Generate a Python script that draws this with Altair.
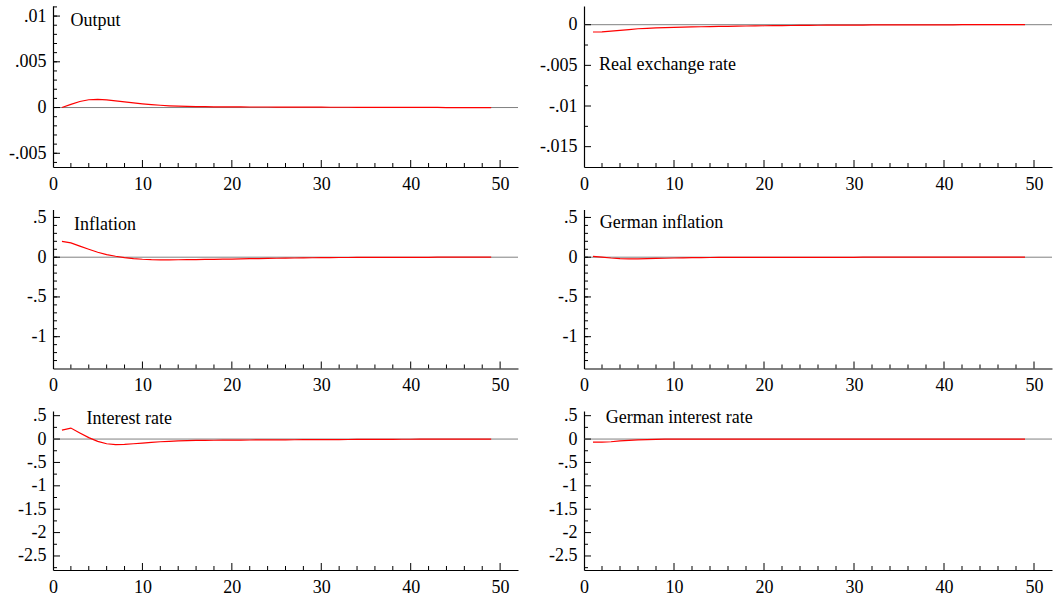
import altair as alt
import pandas as pd
import numpy as np

FONT = "Liberation Serif"

horizon = list(range(1, 50))

output = [0.0, 0.00035, 0.00066, 0.00085, 0.00089, 0.00083, 0.00073, 0.00062, 0.00051, 0.00041,
          0.00032, 0.00025, 0.00019, 0.00015, 0.00012, 0.0001, 0.00009, 0.00008, 0.00008, 0.00007,
          0.00007, 0.00006, 0.00006, 0.00006, 0.00005, 0.00005, 0.00005, 0.00004, 0.00004, 0.00004,
          0.00003, 0.00003, 0.00003, 0.00002, 0.00002, 0.00002, 0.00002, 0.00001, 0.00001, 0.00001,
          0.00001, 0.00001, 0.00001, 0.0, 0.0, 0.0, 0.0, 0.0, 0.0]

real_exchange = [-0.0009, -0.00088, -0.0008, -0.0007, -0.0006, -0.0005, -0.00044, -0.0004, -0.00036, -0.00032,
                 -0.0003, -0.00027, -0.00025, -0.00023, -0.00021, -0.0002, -0.00018, -0.00016, -0.00015, -0.00013,
                 -0.00012, -0.00011, -0.0001, -0.00009, -0.00008, -0.00007, -0.00006, -0.00005, -0.00005, -0.00004,
                 -0.00004, -0.00003, -0.00003, -0.00003, -0.00002, -0.00002, -0.00002, -0.00001, -0.00001, -0.00001,
                 -0.00001, 0.0, 0.0, 0.0, 0.0, 0.0, 0.0, 0.0, 0.0]

inflation = [0.2, 0.18, 0.14, 0.1, 0.062, 0.033, 0.012, -0.005, -0.018, -0.026,
             -0.031, -0.033, -0.033, -0.032, -0.031, -0.03, -0.028, -0.027, -0.025, -0.023,
             -0.021, -0.019, -0.017, -0.015, -0.013, -0.011, -0.01, -0.008, -0.007, -0.006,
             -0.005, -0.004, -0.004, -0.003, -0.003, -0.002, -0.002, -0.002, -0.001, -0.001,
             -0.001, -0.001, 0.0, 0.0, 0.0, 0.0, 0.0, 0.0, 0.0]

german_inflation = [0.01, 0.0, -0.01, -0.017, -0.02, -0.02, -0.019, -0.016, -0.013, -0.01,
                    -0.008, -0.006, -0.005, -0.004, -0.003, -0.003, -0.003, -0.002, -0.002, -0.002,
                    -0.002, -0.002, -0.001, -0.001, -0.001, -0.001, -0.001, -0.001, -0.001, -0.001,
                    0.0, 0.0, 0.0, 0.0, 0.0, 0.0, 0.0, 0.0, 0.0, 0.0,
                    0.0, 0.0, 0.0, 0.0, 0.0, 0.0, 0.0, 0.0, 0.0]

interest = [0.19, 0.235, 0.13, 0.03, -0.05, -0.1, -0.12, -0.115, -0.1, -0.085,
            -0.07, -0.058, -0.048, -0.04, -0.034, -0.03, -0.027, -0.025, -0.023, -0.022,
            -0.021, -0.02, -0.019, -0.018, -0.017, -0.016, -0.015, -0.014, -0.013, -0.012,
            -0.011, -0.01, -0.009, -0.008, -0.007, -0.006, -0.005, -0.005, -0.004, -0.004,
            -0.003, -0.003, -0.002, -0.002, -0.001, -0.001, -0.001, 0.0, 0.0]

german_interest = [-0.065, -0.065, -0.058, -0.04, -0.028, -0.018, -0.011, -0.006, -0.003, -0.001,
                   0.0, 0.0, 0.0, 0.0, 0.0, 0.0, 0.0, 0.0, 0.0, 0.0,
                   0.0, 0.0, 0.0, 0.0, 0.0, 0.0, 0.0, 0.0, 0.0, 0.0,
                   0.0, 0.0, 0.0, 0.0, 0.0, 0.0, 0.0, 0.0, 0.0, 0.0,
                   0.0, 0.0, 0.0, 0.0, 0.0, 0.0, 0.0, 0.0, 0.0]

titles = ["Output", "Real exchange rate", "Inflation", "German inflation",
          "Interest rate", "German interest rate"]

x_labels = [0, 10, 20, 30, 40, 50]
x_minor = [v for v in range(2, 51, 2) if v % 10 != 0]

major_output = [-0.005, 0, 0.005, 0.01]
major_rer = [-0.015, -0.01, -0.005, 0]
major_infl = [-1, -0.5, 0, 0.5]
major_rate = [-2.5, -2, -1.5, -1, -0.5, 0, 0.5]

minor_output = [round(v, 4) for v in np.arange(-0.006, 0.0111, 0.001)]
minor_rer = [-0.0125, -0.0075, -0.0025]
minor_infl = [round(v, 2) for v in np.arange(-1.3, 0.55, 0.1)]
minor_rate = [-2.75, -2.25, -1.75, -1.25, -0.75, -0.25, 0.25]

LABEL_EXPR = "replace(toString(datum.value), '0.', '.')"


def panel(values, title, ydom, major, minor, W, H, tx, ty):
    xs = alt.Scale(domain=[0, 52], nice=False, zero=False)
    ys = alt.Scale(domain=ydom, nice=False, zero=False)
    ax_x = alt.Axis(values=x_labels, ticks=False, title=None, grid=False,
                    domainColor="black", domainWidth=1.2,
                    labelFont=FONT, labelFontSize=18, labelColor="black",
                    labelPadding=8, labelFlush=False, labelOverlap=False, labelBound=False)
    ax_y = alt.Axis(values=major, ticks=False, title=None, grid=False,
                    domainColor="black", domainWidth=1.2,
                    labelFont=FONT, labelFontSize=18, labelColor="black",
                    labelPadding=7, labelFlush=False, labelOverlap=False, labelBound=False,
                    labelExpr=LABEL_EXPR)

    df = pd.DataFrame({"h": horizon, "v": values})

    zero = alt.Chart(pd.DataFrame({"v": [0]})).mark_rule(color="#808080", strokeWidth=1).encode(
        y=alt.Y("v:Q", scale=ys, axis=ax_y), x=alt.value(0), x2=alt.value(W))

    line = alt.Chart(df).mark_line(color="#ff0000", strokeWidth=1.2).encode(
        x=alt.X("h:Q", scale=xs, axis=ax_x),
        y=alt.Y("v:Q", scale=ys, axis=ax_y))

    ymaj = alt.Chart(pd.DataFrame({"v": major})).mark_rule(color="black", strokeWidth=1).encode(
        y=alt.Y("v:Q", scale=ys, axis=ax_y), x=alt.value(0), x2=alt.value(7))
    ymin = alt.Chart(pd.DataFrame({"v": minor})).mark_rule(color="black", strokeWidth=1).encode(
        y=alt.Y("v:Q", scale=ys, axis=ax_y), x=alt.value(0), x2=alt.value(4))
    xmaj = alt.Chart(pd.DataFrame({"h": x_labels[1:]})).mark_rule(color="black", strokeWidth=1).encode(
        x=alt.X("h:Q", scale=xs, axis=ax_x), y=alt.value(H), y2=alt.value(H - 7))
    xmin = alt.Chart(pd.DataFrame({"h": x_minor})).mark_rule(color="black", strokeWidth=1).encode(
        x=alt.X("h:Q", scale=xs, axis=ax_x), y=alt.value(H), y2=alt.value(H - 4))

    label = alt.Chart(pd.DataFrame({"name": [title]})).mark_text(
        align="left", baseline="alphabetic", font=FONT, fontSize=18, color="black").encode(
        x=alt.value(tx), y=alt.value(ty), text="name:N")

    return alt.layer(zero, line, ymaj, ymin, xmaj, xmin, label).properties(width=W, height=H)


WL, WR = 465, 468
p1 = panel(output, titles[0], [-0.0065, 0.0111], major_output, minor_output, WL, 161, 17.5, 20)
p2 = panel(real_exchange, titles[1], [-0.0175, 0.0023], major_rer, minor_rer, WR, 161, 15, 64.3)
p3 = panel(inflation, titles[2], [-1.4, 0.6], major_infl, minor_infl, WL, 159, 21, 20)
p4 = panel(german_inflation, titles[3], [-1.4, 0.6], major_infl, minor_infl, WR, 159, 15.7, 18.4)
p5 = panel(interest, titles[4], [-2.8, 0.6], major_rate, minor_rate, WL, 159, 33.5, 13.3)
p6 = panel(german_interest, titles[5], [-2.8, 0.6], major_rate, minor_rate, WR, 159, 21.7, 12)

chart = alt.concat(p1, p2, p3, p4, p5, p6, columns=2,
                   spacing={"row": 42.5, "column": 66}, bounds="flush", align="each").properties(
    padding={"left": 8, "top": 6, "right": 2, "bottom": 2},
    background="white"
).configure_view(stroke=None)

chart.save("out.html", embed_options={"renderer": "svg", "actions": False})
